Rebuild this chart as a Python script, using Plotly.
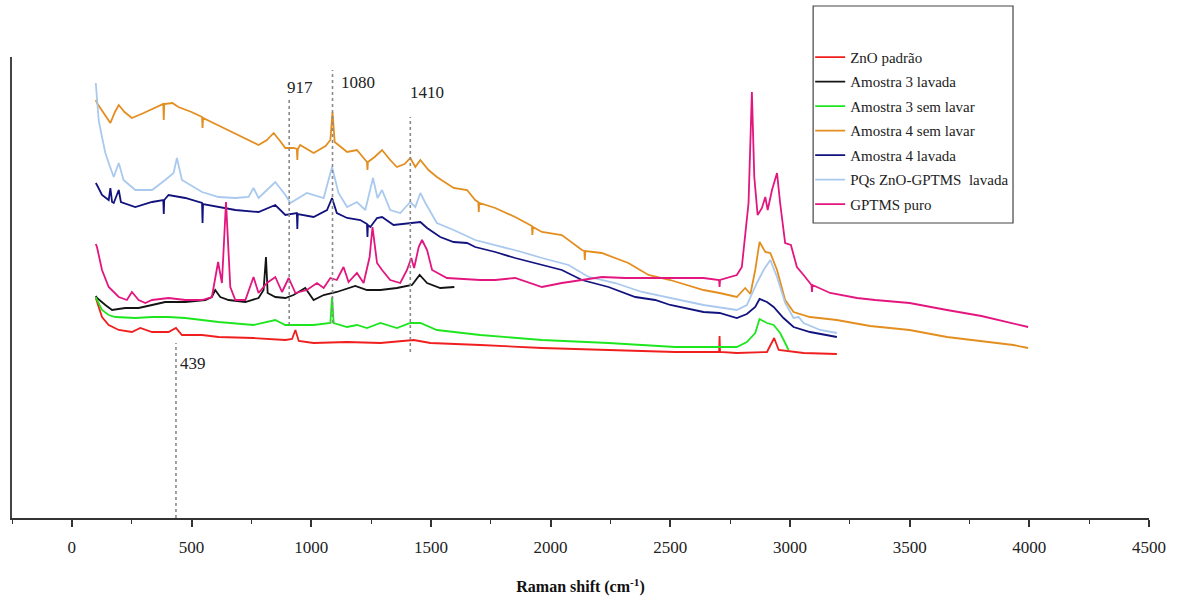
import plotly.graph_objects as go

# ---------------- data (Raman shift in cm-1, intensity in a.u.) ----------------
zno_x = [100, 105, 126, 154, 196, 251, 286, 335, 404, 435, 460, 544, 613, 759, 892, 920, 934, 948,
         1010, 1150, 1289, 1428, 1498, 1706, 1964, 2242, 2521, 2704, 2706, 2708, 2778, 2904, 2934,
         2953, 3057, 3196]
zno_y = [220, 216, 201, 193, 188, 186, 190, 186, 186, 190, 183, 183, 181, 180, 178, 179, 188, 177,
         175, 176, 175, 178, 175, 173, 170, 168, 166, 166, 182, 166, 165, 166, 180,
         168, 165, 164]

a3l_x = [100, 105, 140, 168, 223, 279, 335, 390, 474, 558, 585, 599, 620, 655, 725, 780, 801, 811,
         818, 850, 892, 926, 975, 1010, 1052, 1107, 1184, 1233, 1289, 1358, 1421, 1453, 1484, 1539, 1598]
a3l_y = [222, 220, 213, 208, 210, 210, 213, 216, 216, 218, 221, 228, 221, 218, 216, 220, 228, 261,
         225, 221, 220, 223, 230, 218, 223, 226, 232, 228, 228, 230, 233, 243, 235, 230, 231]

a3s_x = [100, 105, 126, 154, 182, 265, 335, 404, 474, 613, 759, 850, 892, 940, 1010, 1080, 1087, 1094,
         1150, 1191, 1233, 1289, 1358, 1414, 1456, 1525, 1706, 1964, 2242, 2521, 2639, 2778, 2820,
         2855, 2873, 2904, 2932, 2959, 2980, 2994]
a3s_y = [221, 218, 208, 203, 201, 200, 201, 201, 200, 196, 193, 198, 193, 193, 193, 195, 221, 195,
         191, 193, 190, 195, 190, 195, 195, 188, 183, 178, 175, 171, 171, 171, 176,
         185, 199, 195, 193, 185, 175, 168]

a4s_x = [100, 105, 130, 161, 180, 196, 220, 251, 300, 350, 382, 384, 386, 420, 445, 500, 544, 546, 548,
         600, 669, 720, 780, 815, 843, 870, 892, 926, 940, 942, 944, 954, 1010, 1060, 1080, 1089, 1098,
         1150, 1191, 1233, 1235, 1237, 1265, 1296, 1330, 1358, 1390, 1414, 1435, 1456, 1490, 1525,
         1595, 1651, 1685, 1698, 1700, 1702, 1769, 1852, 1922, 1924, 1926, 1964, 2047, 2131, 2141,
         2143, 2145, 2214, 2325, 2409, 2500, 2639, 2706, 2778, 2813, 2835, 2855, 2873, 2897, 2918,
         2946, 2980, 3015, 3084, 3196, 3335, 3500, 3656, 3800, 3933, 3995]
a4s_y = [418, 415, 406, 395, 406, 413, 406, 400, 405, 410, 414, 398, 414, 415, 411, 406, 401, 390, 400,
         394, 386, 380, 373, 378, 385, 377, 370, 370, 369, 358, 369, 373, 365, 372, 378, 406, 376,
         366, 368, 356, 348, 356, 361, 368, 358, 351, 354, 360, 351, 358, 348, 341,
         330, 328, 318, 316, 306, 315, 310, 301, 292, 283, 291, 286, 283, 268, 267,
         258, 267, 265, 255, 243, 238, 228, 225, 221, 230, 224, 248, 276, 266, 265,
         248, 218, 206, 201, 198, 192, 188, 181, 177, 173, 170]

a4l_x = [100, 105, 126, 154, 161, 168, 175, 196, 205, 216, 265, 335, 382, 384, 386, 404, 474, 544, 546,
         548, 613, 683, 780, 850, 892, 940, 942, 944, 1010, 1066, 1087, 1107, 1150, 1205, 1233, 1235,
         1237, 1247, 1275, 1296, 1344, 1414, 1456, 1484, 1539, 1595, 1651, 1685, 1769, 1852, 1964,
         2047, 2131, 2242, 2354, 2437, 2500, 2639, 2706, 2778, 2820, 2855, 2873, 2904, 2932, 2973,
         3015, 3084, 3196]
a4l_y = [335, 333, 323, 318, 330, 316, 315, 328, 316, 315, 311, 316, 318, 304, 318, 323, 320, 315, 295,
         314, 311, 308, 306, 313, 303, 305, 289, 304, 301, 308, 320, 305, 300, 298, 294, 281,
         293, 291, 300, 301, 293, 295, 296, 290, 281, 276, 275, 271, 266, 260, 253,
         248, 238, 231, 221, 218, 213, 206, 205, 200, 204, 211, 219, 216, 211, 200,
         191, 186, 181]

pqs_x = [100, 112, 126, 140, 154, 175, 196, 216, 265, 335, 390, 425, 439, 460, 544, 613, 683, 738, 759,
         780, 815, 850, 892, 913, 982, 1052, 1087, 1114, 1150, 1191, 1226, 1258, 1277, 1296, 1330,
         1372, 1414, 1435, 1456, 1477, 1525, 1595, 1685, 1769, 1880, 1964, 2075, 2159, 2270, 2382,
         2500, 2639, 2778, 2820, 2862, 2890, 2918, 2946, 2980, 3015, 3036, 3057, 3126, 3196]
pqs_y = [435, 398, 381, 365, 355, 341, 355, 338, 328, 328, 338, 345, 360, 338, 326, 321, 320, 321, 330,
         320, 328, 336, 323, 315, 325, 320, 351, 325, 311, 316, 308, 340, 320, 328, 308,
         305, 316, 311, 325, 315, 295, 288, 278, 273, 266, 260, 253, 241, 235, 226,
         220, 213, 208, 213, 235, 248, 258, 241, 215, 200, 201, 195, 188, 185]

gptms_x = [100, 105, 126, 154, 196, 230, 251, 279, 307, 335, 404, 474, 544, 585, 611, 627, 644, 662,
           683, 725, 759, 780, 815, 850, 878, 906, 934, 982, 1024, 1052, 1080, 1107, 1135, 1156,
           1191, 1219, 1244, 1256, 1275, 1296, 1330, 1372, 1400, 1418, 1430, 1449, 1463, 1484, 1505,
           1567, 1706, 1769, 1852, 1964, 2047, 2131, 2214, 2312, 2409, 2500, 2639, 2704, 2706, 2708,
           2778, 2799, 2827, 2841, 2851, 2865, 2883, 2897, 2907, 2925, 2946, 2959, 2980, 3004, 3029,
           3057, 3084, 3090, 3092, 3094, 3168, 3280, 3356, 3500, 3656, 3800, 3995]
gptms_y = [274, 271, 248, 231, 221, 218, 226, 218, 215, 218, 220, 218, 218, 221, 256, 235, 316, 231,
           218, 218, 241, 225, 235, 241, 226, 240, 225, 228, 235, 230, 240, 238, 251, 236,
           245, 235, 261, 291, 255, 248, 238, 235, 248, 260, 250, 271, 278, 268, 248,
           240, 238, 238, 240, 231, 235, 238, 241, 240, 240, 240, 240, 238, 231, 238,
           243, 251, 315, 426, 341, 303, 310, 321, 308, 328, 345, 315, 275, 273, 251,
           243, 235, 233, 226, 233, 225, 220, 218, 215, 208, 202, 191]

series = [
    ("ZnO padrão", zno_x, zno_y, "#f01e1e"),
    ("Amostra 3 lavada", a3l_x, a3l_y, "#141414"),
    ("Amostra 3 sem lavar", a3s_x, a3s_y, "#1ee61e"),
    ("Amostra 4 sem lavar", a4s_x, a4s_y, "#e38e1f"),
    ("Amostra 4 lavada", a4l_x, a4l_y, "#12127e"),
    ("PQs ZnO-GPTMS\u00a0 lavada", pqs_x, pqs_y, "#a9c9ee"),
    ("GPTMS puro", gptms_x, gptms_y, "#e3157f"),
]

peak_lbl = ["439", "917", "1080", "1410"]
line_x = [435, 908, 1089, 1414]
line_y0 = [0, 193, 195, 166]
line_y1 = [175, 418, 448, 401]
lbl_x = [507, 954, 1197, 1485]
lbl_y = [155, 431, 436, 426]

tick_vals = list(range(0, 4501, 500))
tick_text = [str(v) for v in tick_vals]

FONT = "Liberation Serif"

fig = go.Figure()
for i, (name, xs, ys, col) in enumerate(series):
    fig.add_trace(go.Scatter(x=xs, y=ys, mode="lines", name=name,
                             line=dict(color=col, width=1.8), legendgroup=f"g{i}"))

for xv, y0, y1 in zip(line_x, line_y0, line_y1):
    fig.add_shape(type="line", xref="x", yref="y", x0=xv, x1=xv, y0=y0, y1=y1,
                  line=dict(color="#8a8a8a", width=1.6, dash="dot"))

for t, xv, yv in zip(peak_lbl, lbl_x, lbl_y):
    fig.add_annotation(x=xv, y=yv, xref="x", yref="y", text=t, showarrow=False,
                       font=dict(family=FONT, size=17, color="#222"))

# legend frame
fig.add_shape(type="rect", xref="paper", yref="paper", x0=0.7046, x1=0.8804, y0=0.6399, y1=1.1106,
              line=dict(color="#444", width=1.2), fillcolor="rgba(0,0,0,0)")

fig.update_layout(
    width=1186, height=604,
    margin=dict(l=11.5, r=37, t=57, b=86, autoexpand=False),
    paper_bgcolor="white", plot_bgcolor="white",
    font=dict(family=FONT, color="#222"),
    showlegend=True,
    legend=dict(x=0.702, y=1.035, xanchor="left", yanchor="top", bgcolor="rgba(0,0,0,0)",
                borderwidth=0, font=dict(family=FONT, size=15, color="#222"),
                tracegroupgap=2),
    xaxis=dict(range=[-250, 4500], tickvals=tick_vals, ticktext=tick_text, ticks="outside",
               ticklen=7, tickwidth=1.5, tickcolor="#333", showline=True, linecolor="#333",
               linewidth=1.5, showgrid=False, zeroline=False,
               tickfont=dict(family=FONT, size=17, color="#222"), ticklabelstandoff=6,
               minor=dict(dtick=250, tick0=-250, ticks="outside", ticklen=4, tickcolor="#333", tickwidth=1.2),
               title=dict(text="<b>Raman shift (cm<sup>-1</sup>)</b>", standoff=25,
                          font=dict(family=FONT, size=16, color="#111"))),
    yaxis=dict(range=[0, 461], showline=True, linecolor="#444", linewidth=1.5, showticklabels=False,
               ticks="", showgrid=False, zeroline=False),
)

fig.write_html("out.html")
